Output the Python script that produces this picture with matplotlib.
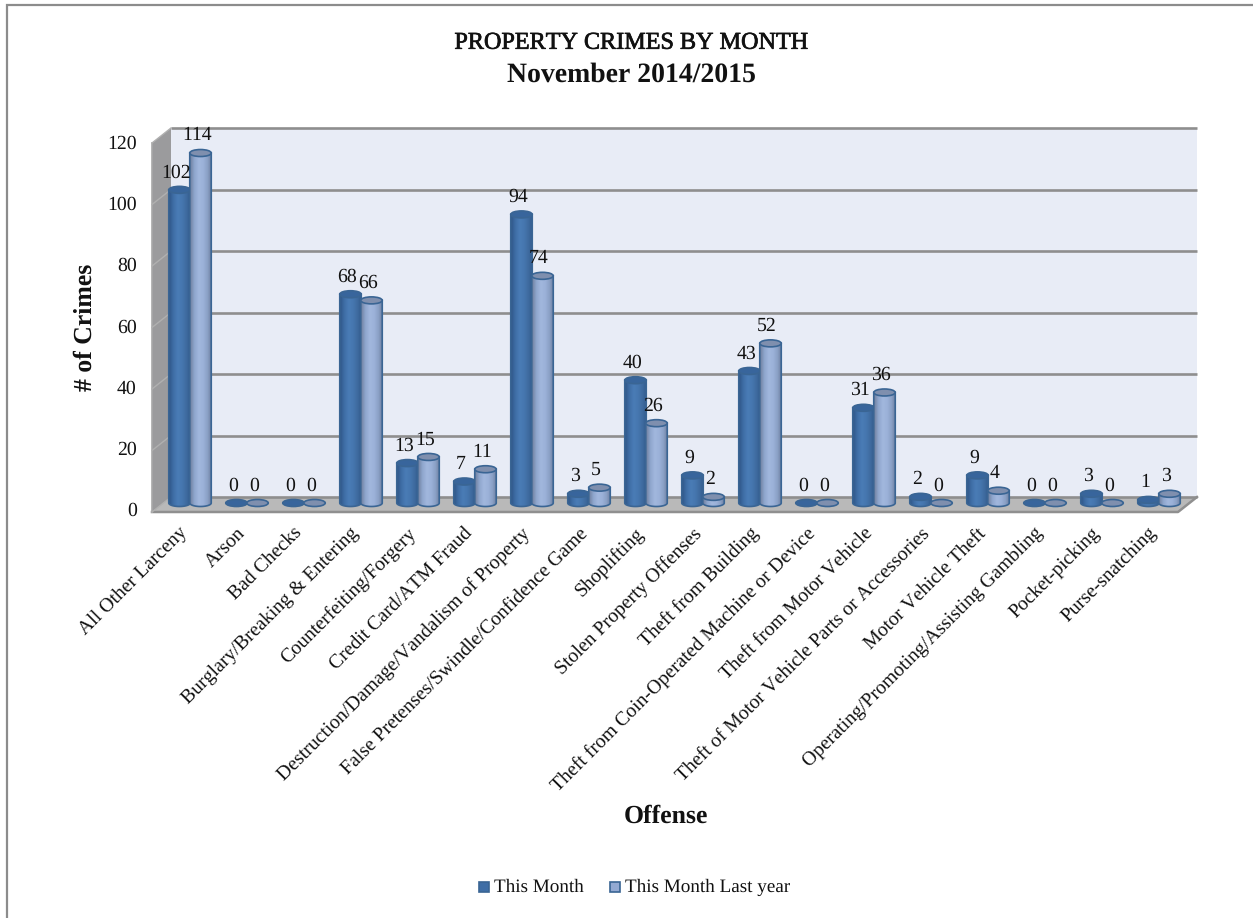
import numpy as np
import matplotlib
matplotlib.use("Agg")
import matplotlib.pyplot as plt
import matplotlib.patheffects as pe
from matplotlib.patches import Polygon, Ellipse, Rectangle
from matplotlib.colors import LinearSegmentedColormap
from matplotlib.transforms import ScaledTranslation

offenses = ["All Other Larceny", "Arson", "Bad Checks", "Burglary/Breaking & Entering",
            "Counterfeiting/Forgery", "Credit Card/ATM Fraud",
            "Destruction/Damage/Vandalism of Property",
            "False Pretenses/Swindle/Confidence Game", "Shoplifting",
            "Stolen Property Offenses", "Theft from Building",
            "Theft from Coin-Operated Machine or Device", "Theft from Motor Vehicle",
            "Theft of Motor Vehicle Parts or Accessories", "Motor Vehicle Theft",
            "Operating/Promoting/Assisting Gambling", "Pocket-picking", "Purse-snatching"]
this_month = [102, 0, 0, 68, 13, 7, 94, 3, 40, 9, 43, 0, 31, 2, 9, 0, 3, 1]
last_year = [114, 0, 0, 66, 15, 11, 74, 5, 26, 2, 52, 0, 36, 0, 4, 0, 0, 3]
y_ticks = [0, 20, 40, 60, 80, 100, 120]

W, H = 1253, 918
FONT = "Liberation Serif"
plt.rcParams["font.family"] = [FONT, "DejaVu Serif"]
plt.rcParams["text.hinting"] = "no_hinting"
plt.rcParams["text.hinting_factor"] = 8
plt.rcParams["text.kerning_factor"] = 6
fig = plt.figure(figsize=(W / 100, H / 100), dpi=100, facecolor="white")
TXT = "#111111"


def rect(x0, y0, x1, y1):
    """axes rect from pixel box (y measured from the top)"""
    return [x0 / W, 1 - y1 / H, (x1 - x0) / W, (y1 - y0) / H]


# ---------- pixel-space backdrop: frame, walls, floor ----------
bg = fig.add_axes([0, 0, 1, 1], zorder=0)
bg.set_xlim(0, W)
bg.set_ylim(H, 0)
bg.axis("off")
bg.plot([7, 7, W], [H, 5, 5], color="#8c8c8c", lw=1.6, solid_joinstyle="miter")

BX0, BX1, BY0, BY1 = 171, 1197, 128, 497
FX0, FX1, DY = 152, 1178, 15
bg.add_patch(Rectangle((BX0, BY0), BX1 - BX0, BY1 - BY0, fc="#e8ecf6", ec="none"))
bg.add_patch(Polygon([(FX0, BY0 + DY), (BX0, BY0), (BX0, BY1), (FX0, BY1 + DY)],
                     fc="#9b9b9d", ec="none"))
bg.add_patch(Polygon([(FX0, BY1 + DY), (BX0, BY1), (BX1, BY1), (FX1, BY1 + DY)],
                     fc="#b9b9b9", ec="none"))
bg.plot([FX0, FX1, BX1], [BY1 + DY, BY1 + DY, BY1], color="#8f8f8f", lw=1.8)
bg.plot([FX0, FX0], [BY0 + DY, BY1 + DY], color="#a8a8a8", lw=1.2)

grid_scale = (BY1 - BY0) / 120
for t in y_ticks:
    gy = BY1 - t * grid_scale
    bg.plot([BX0, BX1], [gy, gy], color="#8e8e8e", lw=1.9, solid_capstyle="butt")
    bg.plot([FX0, BX0], [gy + DY, gy], color="#b0b0b0", lw=1.0)

# ---------- value axis (front edge of the 3-D frame) ----------
ax_y = fig.add_axes(rect(FX0, 142, FX0 + 1, 509), zorder=1)
ax_y.set_ylim(0, 120)
ax_y.set_xticks([])
ax_y.set_yticks(y_ticks)
ax_y.patch.set_alpha(0)
for s in ax_y.spines.values():
    s.set_visible(False)
ax_y.tick_params(axis="y", length=0, pad=11, labelsize=14.2, labelcolor=TXT)

# ---------- bars ----------
PX0, PX1, PY0, PY1 = 140, 1200, 120, 520
STEP = 57.0
X0 = 190.0
UNIT = 3.07
BASE = 503.0
ax = fig.add_axes(rect(PX0, PY0, PX1, PY1), zorder=2)
ax.set_xlim((PX0 - X0) / STEP, (PX1 - X0) / STEP)
ax.set_ylim((BASE - PY1) / UNIT, (BASE - PY0) / UNIT)
ax.patch.set_alpha(0)
for s in ax.spines.values():
    s.set_visible(False)
ax.tick_params(axis="both", length=0)
ax.set_yticks([])
ax.set_xticks(range(len(offenses)))
ax.set_xticklabels(offenses, rotation=45, ha="right", va="top", rotation_mode="anchor",
                   fontsize=14.2, color=TXT)
ax.tick_params(axis="x", pad=3)
shift = ScaledTranslation(-11 / 100, 0, fig.dpi_scale_trans)
for lab in ax.get_xticklabels():
    lab.set_transform(lab.get_transform() + shift)

dark_cmap = LinearSegmentedColormap.from_list(
    "d", ["#2f5687", "#3f6ea6", "#4a7cb6", "#4677af", "#3f6b9f", "#30598c"])
light_cmap = LinearSegmentedColormap.from_list(
    "l", ["#6f7f9e", "#8fa6cd", "#a1b7dd", "#9cb2d9", "#8ba1c6", "#6b7b9c"])
EDGE = "#3a6594"
BW = 21.5 / STEP
EH = 7.0 / UNIT
grad = np.linspace(0, 1, 128).reshape(1, -1)


def draw_series(values, offset, cmap, top_color, zbase):
    xs = np.arange(len(values)) + offset
    bars = ax.bar(xs, values, BW, color="none", edgecolor="none", zorder=zbase)
    th = np.linspace(np.pi, 2 * np.pi, 40)
    for x, v in zip(xs, values):
        z = zbase + 0.01 * x
        if v > 0:
            arc_x = x + BW / 2 * np.cos(th)
            arc_y = EH / 2 * np.sin(th)
            outline = np.column_stack([np.r_[arc_x, x + BW / 2, x - BW / 2],
                                       np.r_[arc_y, v, v]])
            im = ax.imshow(grad, extent=[x - BW / 2, x + BW / 2, -EH / 2, v], aspect="auto",
                           cmap=cmap, zorder=z + 0.001, interpolation="bilinear")
            im.set_clip_path(Polygon(outline, closed=True, transform=ax.transData))
            ax.add_patch(Polygon(outline, closed=True, fc="none", ec=EDGE, lw=1.2,
                                 zorder=z + 0.002))
        ax.add_patch(Ellipse((x, v), BW, EH, fc=top_color, ec=EDGE, lw=1.2, zorder=z + 0.003))
        ax.annotate(str(v), (x, v), xytext=(-2.5, 12.5), textcoords="offset points",
                    ha="center", va="center", fontsize=14.2, color=TXT, zorder=30)
    return bars


OFF = 10.5 / STEP
ax.set_autoscale_on(False)
draw_series(this_month, -OFF, dark_cmap, "#38659c", 5)
draw_series(last_year, OFF, light_cmap, "#7f8fae", 6)
ax.set_xlim((PX0 - X0) / STEP, (PX1 - X0) / STEP)
ax.set_ylim((BASE - PY1) / UNIT, (BASE - PY0) / UNIT)

# ---------- titles ----------
stroke = [pe.withStroke(linewidth=0.5, foreground=TXT)]
fig.text(631 / W, 1 - 43 / H, "PROPERTY CRIMES BY MONTH", ha="center", va="center",
         fontsize=17.4, color=TXT, path_effects=stroke)
fig.text(631 / W, 1 - 74.5 / H, "November 2014/2015", ha="center", va="center",
         fontsize=20, fontweight="bold", color=TXT)
fig.text(85 / W, 1 - 327 / H, "# of Crimes", rotation=90, ha="center", va="center",
         fontsize=18.5, fontweight="bold", color=TXT)
fig.text(666 / W, 1 - 816 / H, "Offense", ha="center", va="center",
         fontsize=18.5, fontweight="bold", color=TXT)

# ---------- legend ----------
lg = [(479, "#3f6ea6", "This Month"), (610, "#93a9d2", "This Month Last year")]
for lx, col, name in lg:
    bg.add_patch(Rectangle((lx, 882), 10, 10, fc=col, ec="#3a6594", lw=1.2))
    bg.text(lx + 15, 887, name, ha="left", va="center", fontsize=13.8, color=TXT)

fig.savefig("out.png", dpi=100, facecolor="white")
